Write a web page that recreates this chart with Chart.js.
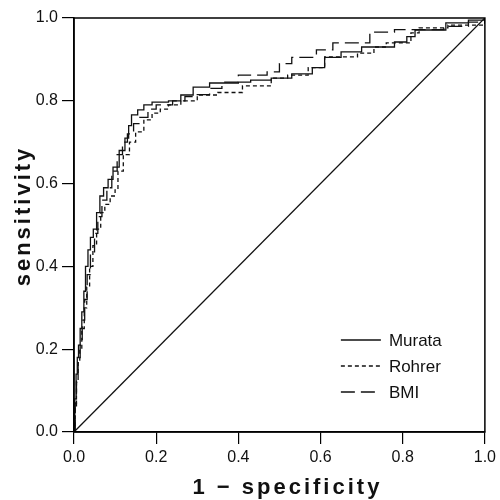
<!DOCTYPE html>
<html>
<head>
<meta charset="utf-8">
<script src="https://cdn.jsdelivr.net/npm/chart.js@4/dist/chart.umd.min.js"></script>
<style>
  html, body { margin: 0; padding: 0; background: #fff; }
  #wrap { width: 500px; height: 500px; position: relative; }
</style>
</head>
<body>
<div id="wrap"><canvas id="roc"></canvas></div>
<script>
// ROC curves (1 - specificity, sensitivity)
const seriesNames = ['Murata', 'Rohrer', 'BMI'];

const murataX = [0, 0.002, 0.005, 0.008, 0.011, 0.015, 0.019, 0.024, 0.028, 0.034,
  0.04, 0.047, 0.055, 0.063, 0.072, 0.083, 0.095, 0.11, 0.124, 0.133,
  0.14, 0.155, 0.17, 0.19, 0.23, 0.26, 0.29, 0.33, 0.40, 0.43,
  0.48, 0.53, 0.58, 0.61, 0.65, 0.70, 0.78, 0.81, 0.83, 0.905, 0.96, 1.0];
const murataY = [0, 0.08, 0.14, 0.18, 0.21, 0.25, 0.29, 0.34, 0.40, 0.44,
  0.47, 0.49, 0.53, 0.57, 0.59, 0.61, 0.64, 0.68, 0.71, 0.74,
  0.766, 0.778, 0.79, 0.797, 0.80, 0.814, 0.833, 0.843, 0.845, 0.85,
  0.855, 0.865, 0.88, 0.905, 0.918, 0.93, 0.942, 0.955, 0.971, 0.988, 0.995, 1.0];

const rohrerX = [0, 0.003, 0.006, 0.01, 0.014, 0.019, 0.025, 0.031, 0.038, 0.046,
  0.055, 0.065, 0.075, 0.088, 0.1, 0.107, 0.12, 0.135, 0.15, 0.17,
  0.19, 0.21, 0.23, 0.26, 0.30, 0.35, 0.41, 0.48, 0.52, 0.57,
  0.61, 0.69, 0.73, 0.76, 0.82, 0.84, 0.91, 1.0];
const rohrerY = [0, 0.06, 0.12, 0.17, 0.2, 0.25, 0.3, 0.35, 0.40, 0.45,
  0.49, 0.53, 0.55, 0.57, 0.585, 0.63, 0.67, 0.7, 0.725, 0.754,
  0.77, 0.78, 0.79, 0.80, 0.814, 0.82, 0.836, 0.855, 0.862, 0.88,
  0.906, 0.915, 0.93, 0.94, 0.964, 0.976, 0.983, 1.0];

const bmiX = [0, 0.003, 0.006, 0.01, 0.015, 0.02, 0.026, 0.032, 0.04, 0.05,
  0.058, 0.068, 0.08, 0.092, 0.105, 0.118, 0.13, 0.145, 0.16, 0.18,
  0.2, 0.24, 0.27, 0.3, 0.33, 0.36, 0.40, 0.47, 0.50, 0.53,
  0.59, 0.63, 0.72, 0.78, 0.9, 0.96, 1.0];
const bmiY = [0, 0.07, 0.13, 0.17, 0.21, 0.27, 0.32, 0.38, 0.43, 0.48,
  0.52, 0.56, 0.59, 0.63, 0.67, 0.70, 0.72, 0.745, 0.76, 0.78,
  0.79, 0.80, 0.81, 0.815, 0.83, 0.845, 0.862, 0.87, 0.89, 0.905,
  0.923, 0.94, 0.966, 0.972, 0.98, 0.99, 1.0];

// chance line
const chanceX = [0, 1];
const chanceY = [0, 1];

const tickValues = [0, 0.2, 0.4, 0.6, 0.8, 1.0];
const tickLabels = ['0.0', '0.2', '0.4', '0.6', '0.8', '1.0'];
const xTitle = '1 \u2212 specificity';
const yTitle = 'sensitivity';

const toPoints = (xs, ys) => xs.map((x, i) => ({ x, y: ys[i] }));

const FONT = '"Liberation Sans", Arial, sans-serif';

function rocLine(label, xs, ys, dash) {
  return {
    label,
    data: toPoints(xs, ys),
    borderColor: '#111',
    borderWidth: 1.3,
    borderDash: dash,
    pointRadius: 0,
    stepped: 'before',
    fill: false,
  };
}

// frame on top/right plus the two axis titles (canvas letter spacing)
const framePlugin = {
  id: 'frame',
  afterDraw(chart) {
    const { ctx, chartArea: a } = chart;
    ctx.save();
    ctx.strokeStyle = '#000';
    ctx.lineWidth = 1.5;
    ctx.strokeRect(a.left, a.top, a.right - a.left, a.bottom - a.top);

    ctx.fillStyle = '#111';
    ctx.font = 'bold 22px ' + FONT;
    if ('letterSpacing' in ctx) ctx.letterSpacing = '3px';
    ctx.textAlign = 'center';
    ctx.textBaseline = 'alphabetic';
    ctx.fillText(xTitle, (a.left + a.right) / 2 + 8, 494);

    ctx.translate(30, (a.top + a.bottom) / 2 - 9);
    ctx.rotate(-Math.PI / 2);
    ctx.fillText(yTitle, 0, 0);
    ctx.restore();
  },
};

// legend inside the plot, lower right
const legendPlugin = {
  id: 'innerLegend',
  afterDraw(chart) {
    const { ctx, chartArea: a } = chart;
    const x0 = a.right - 144;
    let y = a.bottom - 92;
    ctx.save();
    ctx.font = '17px ' + FONT;
    ctx.textBaseline = 'middle';
    ctx.fillStyle = '#111';
    chart.data.datasets.forEach((ds) => {
      if (!seriesNames.includes(ds.label)) return;
      ctx.strokeStyle = ds.borderColor;
      ctx.lineWidth = 1.4;
      ctx.setLineDash(ds.borderDash || []);
      ctx.beginPath();
      ctx.moveTo(x0, y);
      ctx.lineTo(x0 + 40, y);
      ctx.stroke();
      ctx.setLineDash([]);
      ctx.fillText(ds.label, x0 + 48, y + 1);
      y += 26;
    });
    ctx.restore();
  },
};

const axisCommon = {
  type: 'linear',
  min: 0,
  max: 1,
  border: { display: true, color: '#000', width: 1.5 },
  grid: { drawOnChartArea: false, color: '#000', lineWidth: 1.2, tickLength: 12 },
  afterBuildTicks(scale) {
    scale.ticks = tickValues.map((v) => ({ value: v }));
  },
};

new Chart(document.getElementById('roc'), {
  type: 'line',
  data: {
    datasets: [
      rocLine(seriesNames[0], murataX, murataY, []),
      rocLine(seriesNames[1], rohrerX, rohrerY, [4, 3]),
      rocLine(seriesNames[2], bmiX, bmiY, [14, 6]),
      {
        label: 'chance',
        data: toPoints(chanceX, chanceY),
        borderColor: '#111',
        borderWidth: 1.3,
        pointRadius: 0,
        fill: false,
      },
    ],
  },
  options: {
    responsive: true,
    maintainAspectRatio: false,
    devicePixelRatio: 1,
    animation: false,
    layout: { padding: { left: 0, top: 18, right: 14, bottom: 0 } },
    plugins: {
      legend: { display: false },
      tooltip: { enabled: false },
    },
    scales: {
      x: {
        ...axisCommon,
        position: 'bottom',
        ticks: {
          color: '#111',
          font: { family: FONT, size: 16 },
          padding: 4,
          maxRotation: 0,
          callback: (v, i) => tickLabels[i],
        },
        afterFit(scale) { scale.height = 68; },
      },
      y: {
        ...axisCommon,
        position: 'left',
        ticks: {
          color: '#111',
          font: { family: FONT, size: 16 },
          padding: 4,
          callback: (v, i) => tickLabels[i],
        },
        afterFit(scale) { scale.width = 74; },
      },
    },
  },
  plugins: [framePlugin, legendPlugin],
});
</script>
</body>
</html>
